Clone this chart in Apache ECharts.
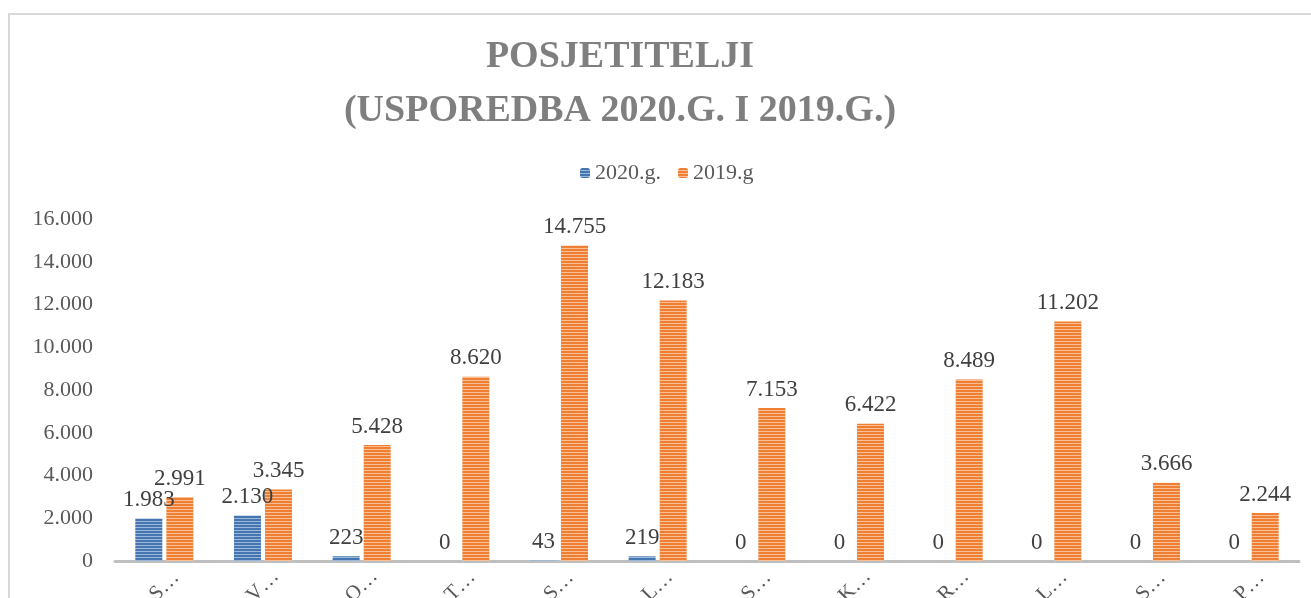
<!DOCTYPE html>
<html>
<head>
<meta charset="utf-8">
<title>Posjetitelji</title>
<script src="https://cdn.jsdelivr.net/npm/echarts@6/dist/echarts.min.js"></script>
<style>
  html, body { margin: 0; padding: 0; background: #fff; }
  #chart { width: 1311px; height: 598px; }
</style>
</head>
<body>
<div id="chart"></div>
<script>
// mjeseci (na osi prikazani skraćeno)
const months = ['Siječanj', 'Veljača', 'Ožujak', 'Travanj', 'Svibanj', 'Lipanj',
  'Srpanj', 'Kolovoz', 'Rujan', 'Listopad', 'Studeni', 'Prosinac']
const seriesNames = ['2020.g.', '2019.g']
const visitors2020 = [1983, 2130, 223, 0, 43, 219, 0, 0, 0, 0, 0, 0]
const visitors2019 = [2991, 3345, 5428, 8620, 14755, 12183, 7153, 6422, 8489, 11202, 3666, 2244]
const yTicks = { min: 0, max: 16000, interval: 2000 }

const FONT = '"Liberation Serif", "Times New Roman", serif'

// prugasti uzorak kao u Excelu
const makeStripes = (base, light) => {
  const c = document.createElement('canvas')
  c.width = 4
  c.height = 3
  const ctx = c.getContext('2d')
  ctx.fillStyle = base
  ctx.fillRect(0, 0, 4, 3)
  ctx.fillStyle = light
  ctx.fillRect(0, 2, 4, 1)
  return { image: c, repeat: 'repeat' }
}

const fmt = (v) => Number(v).toLocaleString('de-DE')

const blue = makeStripes('#4676b0', '#9ab8dc')
const orange = makeStripes('#ef7f33', '#f8bf96')

const chart = echarts.init(document.getElementById('chart'))

const labelStyle = {
  show: true,
  position: 'top',
  distance: 7,
  fontFamily: FONT,
  fontSize: 23,
  color: '#404040',
  formatter: (p) => fmt(p.value)
}

chart.setOption({
  animation: false,
  title: {
    text: 'POSJETITELJI\n(USPOREDBA 2020.G. I 2019.G.)',
    left: 615,
    top: 25,
    textAlign: 'center',
    textStyle: {
      fontFamily: FONT,
      fontSize: 38,
      fontWeight: 'bold',
      color: '#7f7f7f',
      lineHeight: 54
    }
  },
  legend: {
    left: 575,
    top: 157,
    itemWidth: 10,
    itemHeight: 10,
    itemGap: 17,
    textStyle: { fontFamily: FONT, fontSize: 22, color: '#595959' },
    data: seriesNames
  },
  graphic: [{
    type: 'rect',
    shape: { x: 9, y: 14, width: 1400, height: 700 },
    style: { fill: 'none', stroke: '#d9d9d9', lineWidth: 2 },
    silent: true
  }],
  grid: { left: 115, right: 12, top: 219, bottom: 37, outerBoundsMode: 'none' },
  xAxis: {
    type: 'category',
    data: months,
    axisLine: { lineStyle: { color: '#bfbfbf', width: 3 } },
    axisTick: { show: false },
    axisLabel: {
      interval: 0,
      rotate: 45,
      align: 'center',
      verticalAlign: 'middle',
      margin: 25,
      fontFamily: FONT,
      fontSize: 21,
      color: '#595959',
      formatter: (m) => m.charAt(0) + '…'
    }
  },
  yAxis: {
    type: 'value',
    min: yTicks.min,
    max: yTicks.max,
    interval: yTicks.interval,
    splitLine: { show: false },
    axisLine: { show: false },
    axisTick: { show: false },
    axisLabel: {
      margin: 22,
      fontFamily: FONT,
      fontSize: 22,
      color: '#595959',
      formatter: fmt
    }
  },
  series: [
    {
      name: seriesNames[0],
      type: 'bar',
      barWidth: 27,
      barGap: '15%',
      itemStyle: { color: blue },
      label: labelStyle,
      data: visitors2020
    },
    {
      name: seriesNames[1],
      type: 'bar',
      barWidth: 27,
      barGap: '15%',
      itemStyle: { color: orange },
      label: labelStyle,
      data: visitors2019
    }
  ]
})
</script>
</body>
</html>
